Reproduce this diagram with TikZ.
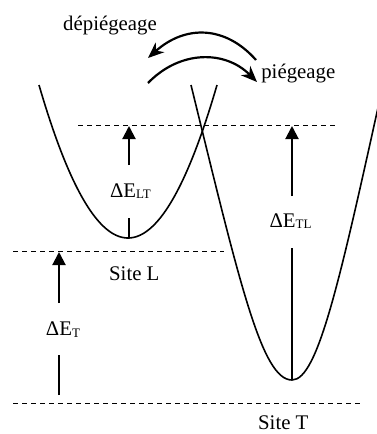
\documentclass[tikz,border=0pt]{standalone}
\usepackage{fontspec}
\setmainfont{Liberation Serif}
\usetikzlibrary{arrows.meta}
\tikzset{
  curve/.style={line width=1.6pt},
  level/.style={line width=0.9pt, dash pattern=on 5pt off 4pt},
  stem/.style={line width=2pt},
  stemarrow/.style={line width=2pt, -{Triangle[width=13pt,length=13pt]}},
  transfer/.style={line width=2.2pt, -{Stealth[length=16pt,width=13pt,inset=5pt]}},
  lbl/.style={inner sep=0pt, anchor=base, font=\fontsize{20.8}{24}\selectfont},
}
\newcommand{\subs}[1]{\raisebox{-1.5pt}{\fontsize{13}{15}\selectfont #1}}
\begin{document}
\begin{tikzpicture}[x=1pt,y=-1pt]
\useasboundingbox (0,0) rectangle (377,434);
\clip (0,0) rectangle (377,434);
% levels
\draw[level] (78,125.7) -- (335,125.7);
\draw[level] (13,251.7) -- (224,251.7);
\draw[level] (13,403) -- (363,403);
% well L (parabola)
\draw[curve] plot[domain=39:217, samples=80] (\x, {238 - 153*((\x-128)/89)^2});
% well T
\draw[curve] (191,85) .. controls (240,285) and (262,380) .. (292,380)
  .. controls (318,380) and (340,280) .. (383,85);
% coordinates
\coordinate (lt0) at (129,237.5);
\coordinate (lt1) at (129,218);
\coordinate (lt2) at (129,165);
\coordinate (lt3) at (129,126);
\coordinate (tl0) at (292,380);
\coordinate (tl1) at (292,248);
\coordinate (tl2) at (292,196);
\coordinate (tl3) at (292,126);
\coordinate (t0) at (59,395);
\coordinate (t1) at (59,355);
\coordinate (t2) at (59,303);
\coordinate (t3) at (59,252);
% energy arrows
\draw[stem] (lt0) -- (lt1);
\draw[stemarrow] (lt2) -- (lt3);
\draw[stem] (tl0) -- (tl1);
\draw[stemarrow] (tl2) -- (tl3);
\draw[stem] (t0) -- (t1);
\draw[stemarrow] (t2) -- (t3);
% labels
\node[lbl] (dLT) at (130.5,197.3) {ΔE\subs{LT}};
\node[lbl] (dTL) at (290.5,227.3) {ΔE\subs{TL}};
\node[lbl] (dT) at (63,335.7) {ΔE\subs{T}};
\node[lbl] (siteL) at (134.3,280.7) {Site L};
\node[lbl] (siteT) at (283.3,429.5) {Site T};
\node[lbl] (dep) at (110,30) {dépiégeage};
\node[lbl] (pie) at (298.3,78.5) {piégeage};
% transfer arrows
\coordinate (u0) at (256,60);
\coordinate (u1) at (148,58);
\coordinate (w0) at (148,83);
\coordinate (w1) at (257,82);
\draw[transfer] (u0) .. controls (225,25) and (185,25) .. (u1);
\draw[transfer] (w0) .. controls (180,50) and (225,50) .. (w1);
\end{tikzpicture}
\end{document}
